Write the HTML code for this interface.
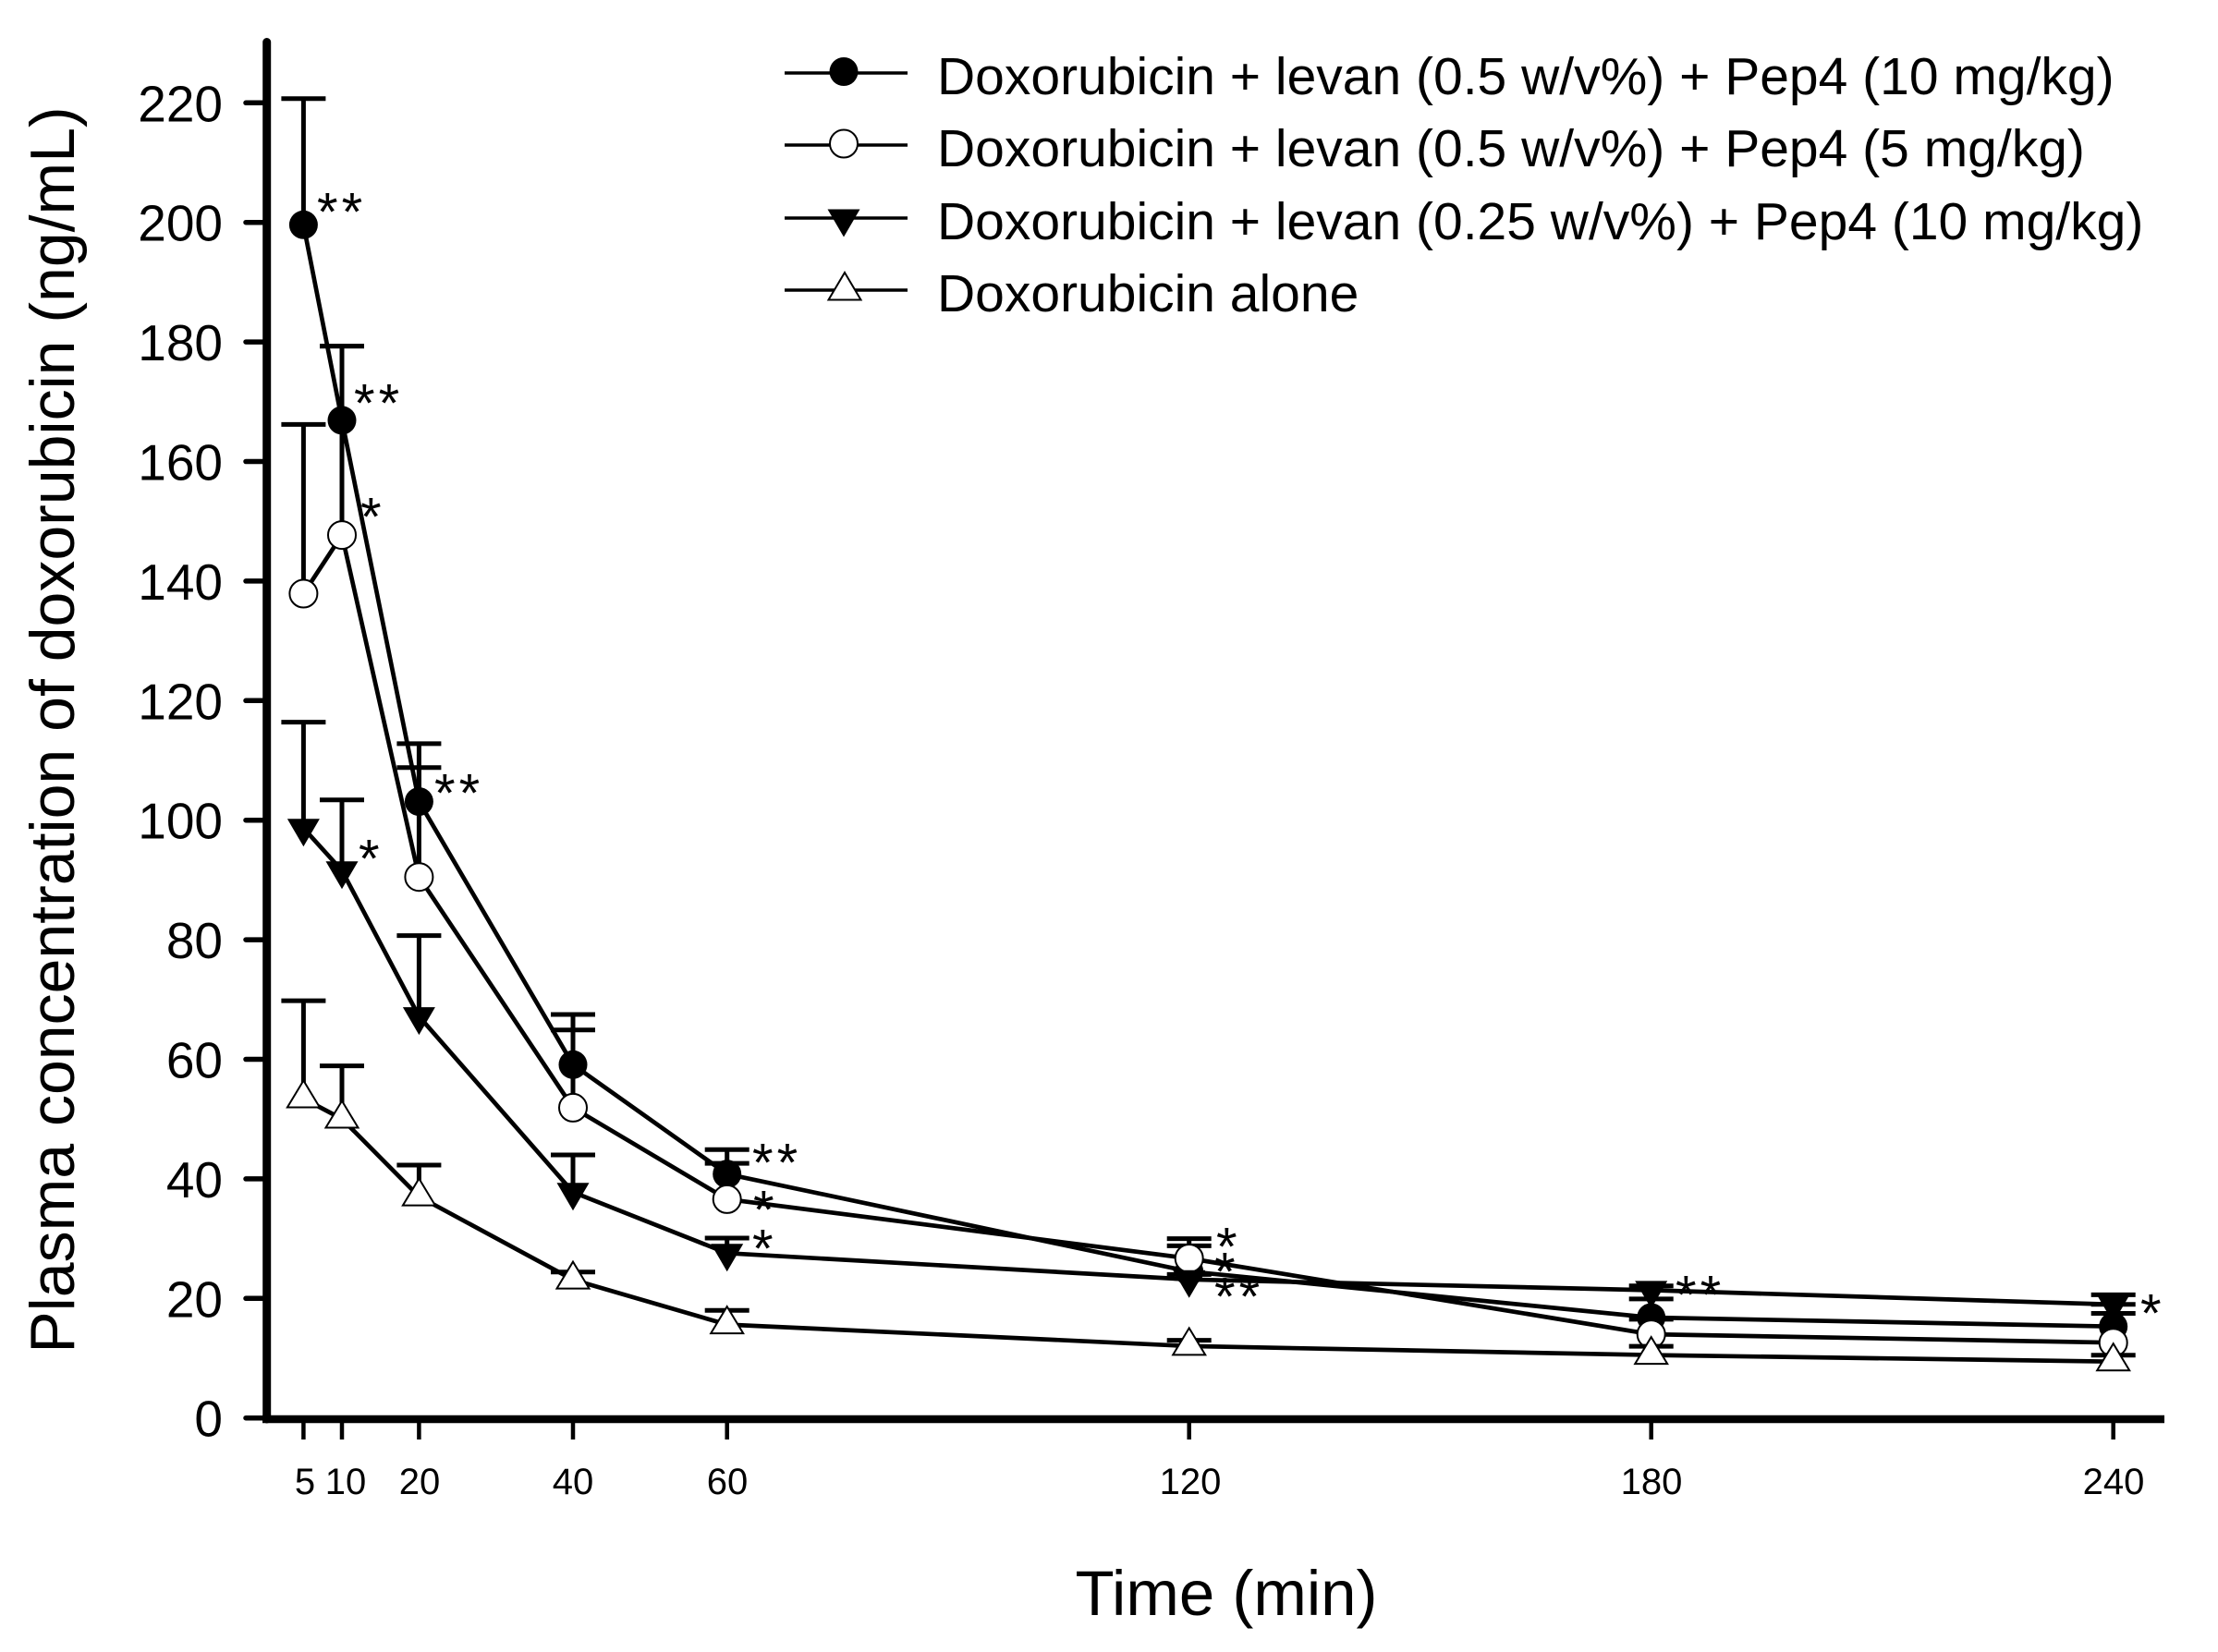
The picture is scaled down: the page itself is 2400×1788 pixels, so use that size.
<!DOCTYPE html>
<html>
<head>
<meta charset="utf-8">
<style>
html,body{margin:0;padding:0;background:#ffffff;}
svg{display:block;}
text{font-family:"Liberation Sans", Arial, sans-serif;fill:#000;}
</style>
</head>
<body>
<svg width="2400" height="1788" viewBox="0 0 2400 1788" xmlns="http://www.w3.org/2000/svg">
<rect x="0" y="0" width="2400" height="1788" fill="#fff"/>

<!-- Axes -->
<path d="M288.7 45.5 V1536" stroke="#000" stroke-width="9" stroke-linecap="round" fill="none"/>
<path d="M284 1536 H2342" stroke="#000" stroke-width="8.5" fill="none"/>

<!-- Y ticks -->
<g stroke="#000" stroke-width="5.5" stroke-linecap="round" fill="none">
<path d="M266 1534.7H286M266 1405.3H286M266 1275.9H286M266 1146.5H286M266 1017.1H286M266 887.7H286M266 758.3H286M266 628.9H286M266 499.5H286M266 370.1H286M266 240.7H286M266 111.3H286"/>
</g>
<g font-size="55" text-anchor="end">
<text x="241" y="1554.7">0</text>
<text x="241" y="1425.3">20</text>
<text x="241" y="1295.9">40</text>
<text x="241" y="1166.5">60</text>
<text x="241" y="1037.1">80</text>
<text x="241" y="907.7">100</text>
<text x="241" y="778.3">120</text>
<text x="241" y="648.9">140</text>
<text x="241" y="519.5">160</text>
<text x="241" y="390.1">180</text>
<text x="241" y="260.7">200</text>
<text x="241" y="131.3">220</text>
</g>

<!-- X ticks -->
<g stroke="#000" stroke-width="4.5" fill="none">
<path d="M328.4 1540V1558M370 1540V1558M453.4 1540V1558M620 1540V1558M786.7 1540V1558M1286.7 1540V1558M1786.7 1540V1558M2286.7 1540V1558"/>
</g>
<g font-size="40" text-anchor="middle">
<text x="330" y="1617">5</text>
<text x="374" y="1617">10</text>
<text x="454" y="1617">20</text>
<text x="620" y="1617">40</text>
<text x="787" y="1617">60</text>
<text x="1288" y="1617">120</text>
<text x="1787" y="1617">180</text>
<text x="2287" y="1617">240</text>
</g>

<!-- Axis titles -->
<text x="1327" y="1748" font-size="69" text-anchor="middle">Time (min)</text>
<text transform="translate(80,790) rotate(-90)" x="0" y="0" font-size="68" text-anchor="middle">Plasma concentration of doxorubicin (ng/mL)</text>

<!-- Series A: filled circle -->
<polyline points="328.4,243.3 370,454.9 453.4,867.6 620,1152.3 786.7,1270.7 1286.7,1376.2 1786.7,1426 2286.7,1435.7" fill="none" stroke="#000" stroke-width="4.7" stroke-linejoin="round"/>
<path d="M328.4 243.3V106.8M304.4 106.8H352.4M370 454.9V374.6M346 374.6H394M453.4 867.6V804.9M429.4 804.9H477.4M620 1152.3V1098M596 1098H644M786.7 1270.7V1244.2M762.7 1244.2H810.7M1286.7 1376.2V1348.4M1262.7 1348.4H1310.7M1786.7 1426V1405.9M1762.7 1405.9H1810.7M2286.7 1435.7V1411.8M2262.7 1411.8H2310.7" stroke="#000" stroke-width="5" fill="none"/>
<g fill="#000">
<circle cx="328.4" cy="243.3" r="15.5"/>
<circle cx="370" cy="454.9" r="15.5"/>
<circle cx="453.4" cy="867.6" r="15.5"/>
<circle cx="620" cy="1152.3" r="15.5"/>
<circle cx="786.7" cy="1270.7" r="15.5"/>
<circle cx="1286.7" cy="1376.2" r="15.5"/>
<circle cx="1786.7" cy="1426" r="15.5"/>
<circle cx="2286.7" cy="1435.7" r="15.5"/>
</g>

<!-- Series B: open circle -->
<polyline points="328.4,642.5 370,579.1 453.4,949.2 620,1198.9 786.7,1297.9 1286.7,1362 1786.7,1444.1 2286.7,1453.2" fill="none" stroke="#000" stroke-width="4.7" stroke-linejoin="round"/>
<path d="M328.4 642.5V459.4M304.4 459.4H352.4M370 579.1V374.6M346 374.6H394M453.4 949.2V830.8M429.4 830.8H477.4M620 1198.9V1114.8M596 1114.8H644M786.7 1297.9V1259.1M762.7 1259.1H810.7M1286.7 1362V1340.6M1262.7 1340.6H1310.7M1786.7 1444.1V1427.9M1762.7 1427.9H1810.7M2286.7 1453.2V1421.5M2262.7 1421.5H2310.7" stroke="#000" stroke-width="5" fill="none"/>
<g fill="#fff" stroke="#000" stroke-width="2">
<circle cx="328.4" cy="642.5" r="15"/>
<circle cx="370" cy="579.1" r="15"/>
<circle cx="453.4" cy="949.2" r="15"/>
<circle cx="620" cy="1198.9" r="15"/>
<circle cx="786.7" cy="1297.9" r="15"/>
<circle cx="1286.7" cy="1362" r="15"/>
<circle cx="1786.7" cy="1444.1" r="15"/>
<circle cx="2286.7" cy="1453.2" r="15"/>
</g>

<!-- Series C: filled down triangle -->
<polyline points="328.4,896.3 370,942.2 453.4,1100.1 620,1290.3 786.7,1356.3 1286.7,1384.8 1786.7,1396.4 2286.7,1411.9" fill="none" stroke="#000" stroke-width="4.7" stroke-linejoin="round"/>
<path d="M328.4 896.3V781.6M304.4 781.6H352.4M370 942.2V865.7M346 865.7H394M453.4 1100.1V1012.6M429.4 1012.6H477.4M620 1290.3V1250M596 1250H644M786.7 1356.3V1340M762.7 1340H810.7M1286.7 1384.8V1379.4M1262.7 1379.4H1310.7M1786.7 1396.4V1391.7M1762.7 1391.7H1810.7M2286.7 1411.9V1401.4M2262.7 1401.4H2310.7" stroke="#000" stroke-width="5" fill="none"/>
<g fill="#000">
<polygon points="310.9,886.3 345.9,886.3 328.4,916.3"/>
<polygon points="352.5,932.2 387.5,932.2 370,962.2"/>
<polygon points="435.9,1090.1 470.9,1090.1 453.4,1120.1"/>
<polygon points="602.5,1280.3 637.5,1280.3 620,1310.3"/>
<polygon points="769.2,1346.3 804.2,1346.3 786.7,1376.3"/>
<polygon points="1269.2,1374.8 1304.2,1374.8 1286.7,1404.8"/>
<polygon points="1769.2,1386.4 1804.2,1386.4 1786.7,1416.4"/>
<polygon points="2269.2,1401.9 2304.2,1401.9 2286.7,1431.9"/>
</g>

<!-- Series D: open up triangle -->
<polyline points="328.4,1189 370,1211 453.4,1295.1 620,1385.1 786.7,1433.6 1286.7,1456.9 1786.7,1466.6 2286.7,1473.7" fill="none" stroke="#000" stroke-width="4.7" stroke-linejoin="round"/>
<path d="M328.4 1189V1083.1M304.4 1083.1H352.4M370 1211V1153.6M346 1153.6H394M453.4 1295.1V1261M429.4 1261H477.4M620 1385.1V1376.8M596 1376.8H644M786.7 1433.6V1418.2M762.7 1418.2H810.7M1286.7 1456.9V1450.6M1262.7 1450.6H1310.7M1786.7 1466.6V1457.1M1762.7 1457.1H1810.7M2286.7 1473.7V1466.8M2262.7 1466.8H2310.7" stroke="#000" stroke-width="5" fill="none"/>
<g fill="#fff" stroke="#000" stroke-width="2" stroke-linejoin="miter">
<polygon points="328.4,1169.5 345.9,1198.5 310.9,1198.5"/>
<polygon points="370,1191.5 387.5,1220.5 352.5,1220.5"/>
<polygon points="453.4,1275.6 470.9,1304.6 435.9,1304.6"/>
<polygon points="620,1365.6 637.5,1394.6 602.5,1394.6"/>
<polygon points="786.7,1414.1 804.2,1443.1 769.2,1443.1"/>
<polygon points="1286.7,1437.4 1304.2,1466.4 1269.2,1466.4"/>
<polygon points="1786.7,1447.1 1804.2,1476.1 1769.2,1476.1"/>
<polygon points="2286.7,1454.2 2304.2,1483.2 2269.2,1483.2"/>
</g>

<!-- Significance asterisks -->
<g font-size="58" letter-spacing="4">
<text x="343" y="249.5">**</text>
<text x="383" y="456.5">**</text>
<text x="390" y="579.5">*</text>
<text x="470" y="878.5">**</text>
<text x="388" y="949.5">*</text>
<text x="814" y="1278.5">**</text>
<text x="815" y="1329.5">*</text>
<text x="814" y="1371.5">*</text>
<text x="1316" y="1369.5">*</text>
<text x="1314" y="1396.5">*</text>
<text x="1314" y="1423.5">**</text>
<text x="1813" y="1421.5">**</text>
<text x="2316" y="1441.5">*</text>
</g>

<!-- Legend -->
<g stroke="#000" stroke-width="3.5" fill="none">
<path d="M849 79H982M849 157H982M849 236H982M849 314H982"/>
</g>
<circle cx="913" cy="77.5" r="15.5" fill="#000"/>
<circle cx="913" cy="155.5" r="15" fill="#fff" stroke="#000" stroke-width="2"/>
<polygon points="895.5,226.5 930.5,226.5 913,256.5" fill="#000"/>
<polygon points="914,295 931.5,324.5 896.5,324.5" fill="#fff" stroke="#000" stroke-width="2"/>
<g font-size="57">
<text x="1014" y="102">Doxorubicin + levan (0.5 w/v%) + Pep4 (10 mg/kg)</text>
<text x="1014" y="180">Doxorubicin + levan (0.5 w/v%) + Pep4 (5 mg/kg)</text>
<text x="1014" y="259">Doxorubicin + levan (0.25 w/v%) + Pep4 (10 mg/kg)</text>
<text x="1014" y="337">Doxorubicin alone</text>
</g>
</svg>
</body>
</html>
